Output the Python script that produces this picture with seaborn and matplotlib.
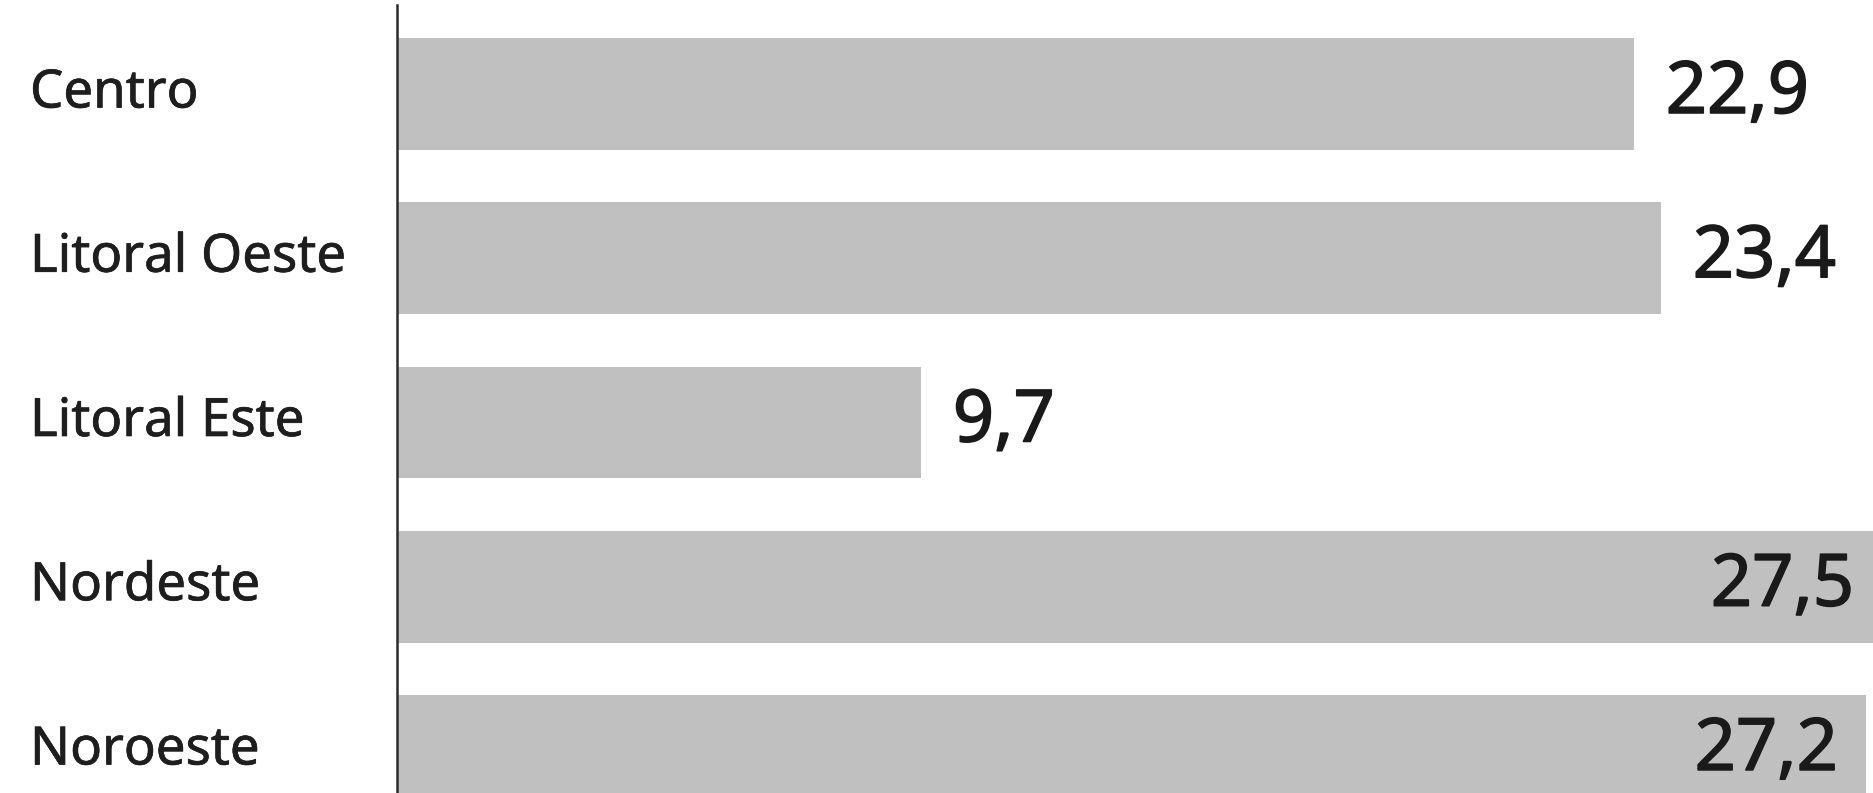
import matplotlib
matplotlib.use("Agg")
import matplotlib.pyplot as plt
import matplotlib.transforms as mtransforms
import matplotlib.patheffects as pe
import seaborn as sns
import pandas as pd

regions = ["Centro", "Litoral Oeste", "Litoral Este", "Nordeste", "Noroeste"]
values = [22.9, 23.4, 9.7, 27.5, 27.2]
value_labels = ["22,9", "23,4", "9,7", "27,5", "27,2"]

sns.set_style("white")
plt.rcParams["font.family"] = ["Noto Sans", "DejaVu Sans"]

fig = plt.figure(figsize=(18.73, 7.93), dpi=100)
ax = fig.add_axes([397 / 1873, 0, (1873 - 397) / 1873, 788 / 793])

df = pd.DataFrame({"region": regions, "value": values})
sns.barplot(data=df, x="value", y="region", orient="h", color="#c0c0c0",
            saturation=1, width=0.68, edgecolor="none", ax=ax)

xmax = 27.33
ax.set_xlim(0, xmax)
ax.set_ylim(4.256, -0.542)

for s in ["top", "right", "bottom"]:
    ax.spines[s].set_visible(False)
ax.spines["left"].set_color("#2a2a2a")
ax.spines["left"].set_linewidth(1.8)
ax.set_xticks([])
ax.set_yticks([])
ax.set_xlabel("")
ax.set_ylabel("")

label_fx = [pe.withStroke(linewidth=0.5, foreground="#1e1e1e")]
value_fx = [pe.withStroke(linewidth=1.1, foreground="#1a1a1a")]

trans_fig_x = mtransforms.blended_transform_factory(fig.transFigure, ax.transData)
for i, r in enumerate(regions):
    ax.text(30 / 1873, i, r, transform=trans_fig_x, ha="left", va="center",
            fontsize=38, color="#1e1e1e", path_effects=label_fx)

inside_threshold = 25
for i, (v, lab) in enumerate(zip(values, value_labels)):
    if v > inside_threshold:
        off = mtransforms.offset_copy(ax.transData, fig=fig, x=-28, y=0, units="dots")
        ax.text(v, i, lab, transform=off, ha="right", va="center",
                fontsize=52, color="#1a1a1a", path_effects=value_fx)
    else:
        off = mtransforms.offset_copy(ax.transData, fig=fig, x=32, y=0, units="dots")
        ax.text(v, i, lab, transform=off, ha="left", va="center",
                fontsize=52, color="#1a1a1a", path_effects=value_fx)

fig.savefig("out.png", dpi=100, facecolor="white")
